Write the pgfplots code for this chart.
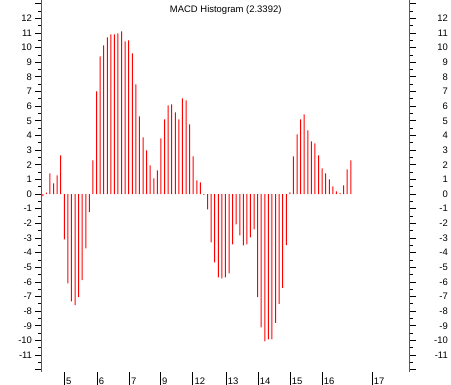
\documentclass[border=0pt]{standalone}
\usepackage{fontspec}
\setmainfont{Liberation Sans}
\usepackage{pgfplots}
\usepackage{pgfplotstable}
\pgfplotsset{compat=1.18}
\pgfplotstableread{
i v
1 -0.14
2 0.10
3 1.41
4 0.73
5 1.27
6 2.64
7 -3.09
8 -6.10
9 -7.33
10 -7.58
11 -7.03
12 -5.87
13 -3.71
14 -1.23
15 2.30
16 7.01
17 9.40
18 10.15
19 10.69
20 10.90
21 10.90
22 10.97
23 11.10
24 10.42
25 10.49
26 9.60
27 7.49
28 5.30
29 3.87
30 2.98
31 1.96
32 1.07
33 1.62
34 3.80
35 5.10
36 6.05
37 6.12
38 5.57
39 5.10
40 6.53
41 6.39
42 4.76
43 2.57
44 0.93
45 0.80
46 -0.06
47 -1.05
48 -3.30
49 -4.66
50 -5.69
51 -5.76
52 -5.69
53 -5.42
54 -3.44
55 -2.07
56 -2.82
57 -3.50
58 -3.44
59 -2.96
60 -2.41
61 -7.03
62 -9.10
63 -10.06
64 -9.92
65 -9.92
66 -8.80
67 -7.50
68 -6.40
69 -3.48
70 0.11
71 2.57
72 4.07
73 5.10
74 5.44
75 4.35
76 3.60
77 3.46
78 2.64
79 1.75
80 1.41
81 1.00
82 0.52
83 0.18
84 0.06
85 0.59
86 1.68
87 2.30
}\macd
\pgfplotsset{common/.style={
  scale only axis, width=368bp, height=372bp,
  xmin=0.64, xmax=103.4, ymin=-12.15, ymax=13.25,
  at={(0,0)}, anchor=south west,
  axis line style={draw=none},
  tick style={black, line width=0.8bp},
  tick align=outside,
  ticklabel style={font=\fontsize{9.5}{11}\selectfont},
  /pgf/number format/assume math mode=true,
}}
\begin{document}
\begin{tikzpicture}
\useasboundingbox (-41.5bp,-13bp) rectangle (409.5bp,372bp);
% data axis with left y ticks
\begin{axis}[common,
  xtick=\empty,
  ytick={-11,...,12}, extra y ticks={-12,13}, extra y tick labels={},
  minor ytick={-11.5,-10.5,...,12.5},
  ytick pos=left,
  major tick length=6bp, minor tick length=3.5bp,
]
\addplot[ybar, bar width=1bp, bar shift=0pt, fill=red, draw=none] table[x=i, y=v] {\macd};
\draw[black, line width=1bp] (rel axis cs:0,1) -- (rel axis cs:0,0) -- (rel axis cs:1,0) -- (rel axis cs:1,1);
\end{axis}
% right y ticks
\begin{axis}[common,
  xtick=\empty,
  ytick={-11,...,12}, extra y ticks={-12,13}, extra y tick labels={},
  minor ytick={-11.5,-10.5,...,12.5},
  ytick pos=right, yticklabel pos=right,
  major tick length=6bp, minor tick length=3.5bp,
  yticklabel style={anchor=east, inner sep=0pt, xshift=32.5bp},
]
\end{axis}
% x ticks
\begin{axis}[common,
  ytick=\empty,
  xtick={7.06,16.19,25.2,33.87,42.9,52.2,61.15,70.09,79.0,92.98},
  xticklabels={5,6,7,9,12,13,14,15,16,17},
  xtick pos=bottom,
  major tick length=14bp,
  xticklabel style={anchor=base west, inner sep=0pt, xshift=1.5bp, yshift=1.5bp},
]
\end{axis}
\node[font=\fontsize{9.5}{11}\selectfont, anchor=base] at (184.2bp,359.5bp) {MACD Histogram (2.3392)};
\end{tikzpicture}
\end{document}
